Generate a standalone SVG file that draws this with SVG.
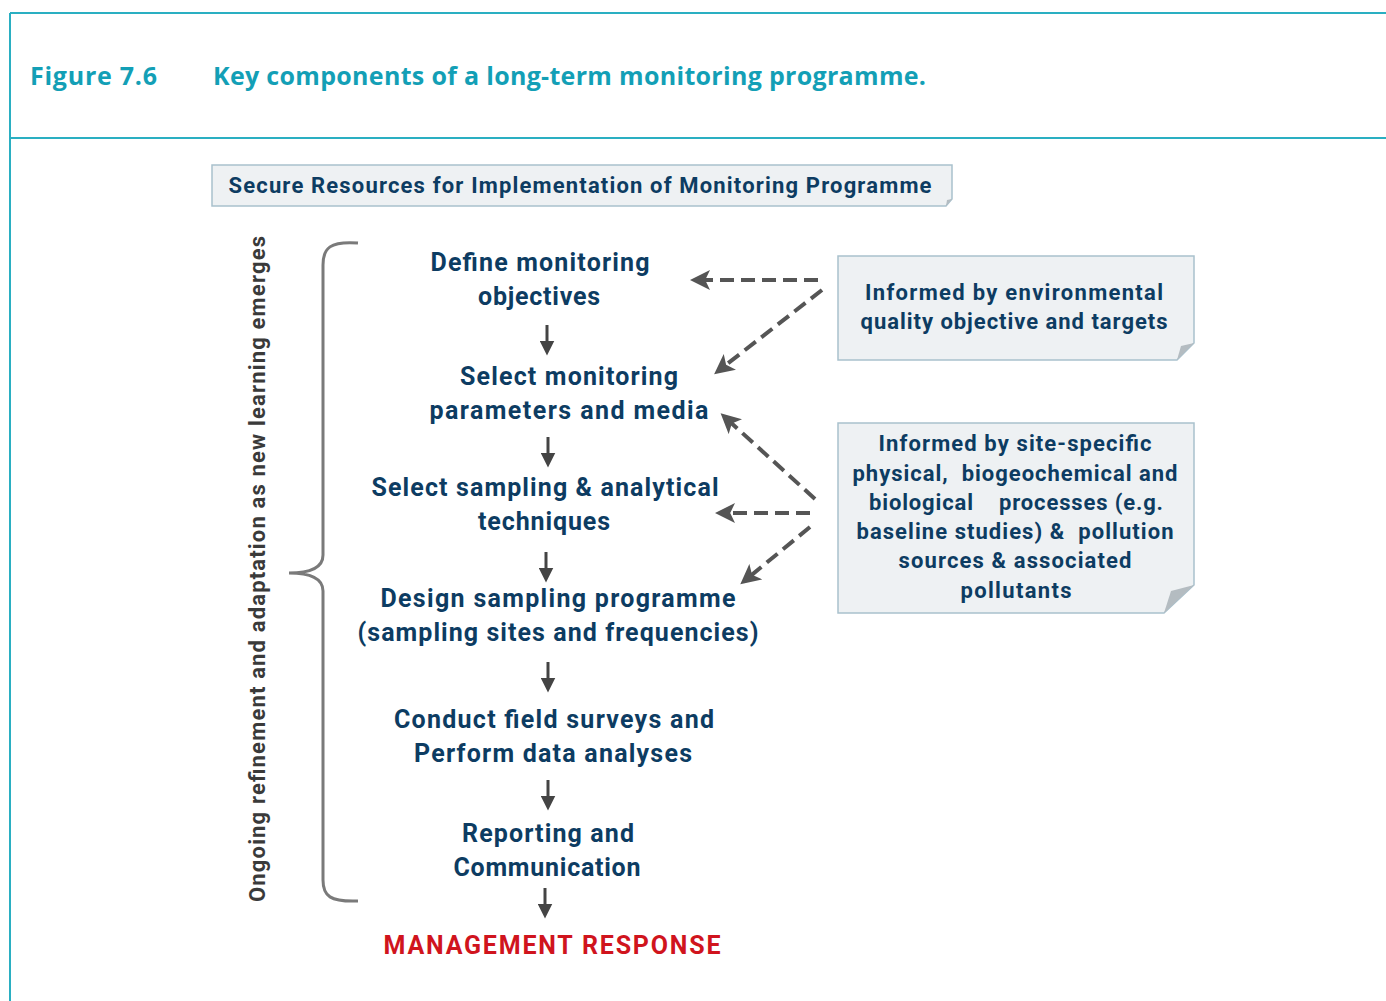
<svg xmlns="http://www.w3.org/2000/svg" width="1386" height="1001" viewBox="0 0 1386 1001">
<defs>
<style>
.frame{stroke:#2aafc2;stroke-width:2;fill:none}
.title{font-family:"Open Sans","Noto Sans",sans-serif;font-weight:700;font-size:25px;fill:#139fb6}
.node{font-family:Roboto,"Liberation Sans",sans-serif;font-weight:700;font-size:25px;fill:#0d3c62;text-anchor:middle}
.note{font-family:Roboto,"Liberation Sans",sans-serif;font-weight:700;font-size:22px;fill:#0d3c62;text-anchor:middle;white-space:pre}
.side{font-family:Roboto,"Liberation Sans",sans-serif;font-weight:700;font-size:22px;fill:#3a3a3a;text-anchor:middle}
.mgmt{font-family:Roboto,"Liberation Sans",sans-serif;font-weight:700;font-size:25px;fill:#d0141d;text-anchor:middle}
.box{fill:#eef1f3;stroke:#a9c1cd;stroke-width:1.5}
.curl{fill:#b4bcc1}
.solid{stroke:#444;stroke-width:3;fill:none}
.dash{stroke:#555;stroke-width:4;fill:none;stroke-dasharray:14 7}
</style>
<marker id="head" markerWidth="5" markerHeight="5" refX="2.5" refY="2.5" orient="auto" markerUnits="strokeWidth">
<path d="M0,0 L5,2.5 L0,5 L1.2,2.5 Z" fill="#555"/>
</marker>
<marker id="shead" markerWidth="5" markerHeight="5" refX="2.5" refY="2.5" orient="auto" markerUnits="strokeWidth">
<path d="M0,0 L5,2.5 L0,5 Z" fill="#444"/>
</marker>
</defs>
<rect width="1386" height="1001" fill="#fff"/>
<g id="frame">
<line class="frame" x1="10" y1="13" x2="1386" y2="13"/>
<line class="frame" x1="10" y1="138" x2="1386" y2="138"/>
<line class="frame" x1="10" y1="13" x2="10" y2="1001"/>
</g>
<g id="title">
<text class="title" x="30" y="85" textLength="127">Figure 7.6</text>
<text class="title" x="213" y="85" textLength="713">Key components of a long-term monitoring programme.</text>
</g>
<g id="resources">
<path class="box" d="M212,165 H952 V199 L946,206 H212 Z"/>
<path class="curl" d="M946,206 L952,199 L947,200 Z"/>
<text class="note" x="580" y="193" textLength="703">Secure Resources for Implementation of Monitoring Programme</text>
</g>
<g id="side-label">
<text class="side" transform="translate(265,569) rotate(-90)" textLength="666">Ongoing refinement and adaptation as new learning emerges</text>
<path d="M358,243 C330,241 323,248 323,265 V555 C323,568 310,573 289,573 C310,573 323,578 323,591 V880 C323,896 330,902 358,901" stroke="#7a7a7a" stroke-width="3" fill="none"/>
</g>
<g id="n1"><text class="node" x="540" y="271" textLength="219">Define monitoring</text><text class="node" x="539" y="305" textLength="122">objectives</text></g>
<g id="n2"><text class="node" x="569" y="385" textLength="218">Select monitoring</text><text class="node" x="569" y="419" textLength="279">parameters and media</text></g>
<g id="n3"><text class="node" x="545" y="496" textLength="347">Select sampling &amp; analytical</text><text class="node" x="544" y="530" textLength="132">techniques</text></g>
<g id="n4"><text class="node" x="558" y="607" textLength="355">Design sampling programme</text><text class="node" x="558" y="641" textLength="401">(sampling sites and frequencies)</text></g>
<g id="n5"><text class="node" x="554" y="728" textLength="320">Conduct field surveys and</text><text class="node" x="553" y="762" textLength="278">Perform data analyses</text></g>
<g id="n6"><text class="node" x="548" y="842" textLength="172">Reporting and</text><text class="node" x="547" y="876" textLength="187">Communication</text></g>
<g id="n7"><text class="mgmt" x="552" y="954" textLength="337">MANAGEMENT RESPONSE</text></g>
<g id="note1">
<path class="box" d="M838,256 H1194 V343 L1177,360 H838 Z"/>
<path class="curl" d="M1177,360 L1194,343 L1181,346 Z"/>
<text class="note" x="1014" y="300" textLength="298">Informed by environmental</text>
<text class="note" x="1014" y="329" textLength="307">quality objective and targets</text>
</g>
<g id="note2">
<path class="box" d="M838,423 H1194 V585 L1164,613 H838 Z"/>
<path class="curl" d="M1164,613 L1194,585 L1171,591 Z"/>
<text class="note" x="1015" y="451" textLength="273">Informed by site-specific</text>
<text class="note" x="1015" y="481" textLength="325">physical,  biogeochemical and</text>
<text class="note" x="1016" y="510" textLength="294">biological    processes (e.g.</text>
<text class="note" x="1015" y="539" textLength="317">baseline studies) &amp;  pollution</text>
<text class="note" x="1015" y="568" textLength="233">sources &amp; associated</text>
<text class="note" x="1016" y="598" textLength="111">pollutants</text>
</g>
<g id="connectors">
<line class="solid" x1="547" y1="325" x2="547" y2="348" marker-end="url(#shead)"/>
<line class="solid" x1="548" y1="437" x2="548" y2="460" marker-end="url(#shead)"/>
<line class="solid" x1="546" y1="552" x2="546" y2="575" marker-end="url(#shead)"/>
<line class="solid" x1="548" y1="662" x2="548" y2="685" marker-end="url(#shead)"/>
<line class="solid" x1="548" y1="780" x2="548" y2="803" marker-end="url(#shead)"/>
<line class="solid" x1="545" y1="888" x2="545" y2="911" marker-end="url(#shead)"/>
<line class="dash" x1="818" y1="280" x2="700" y2="280" marker-end="url(#head)"/>
<line class="dash" x1="822" y1="290" x2="722" y2="368" marker-end="url(#head)"/>
<line class="dash" x1="815" y1="499" x2="728" y2="420" marker-end="url(#head)"/>
<line class="dash" x1="810" y1="513" x2="725" y2="513" marker-end="url(#head)"/>
<line class="dash" x1="810" y1="527" x2="748" y2="578" marker-end="url(#head)"/>
</g>
</svg>
